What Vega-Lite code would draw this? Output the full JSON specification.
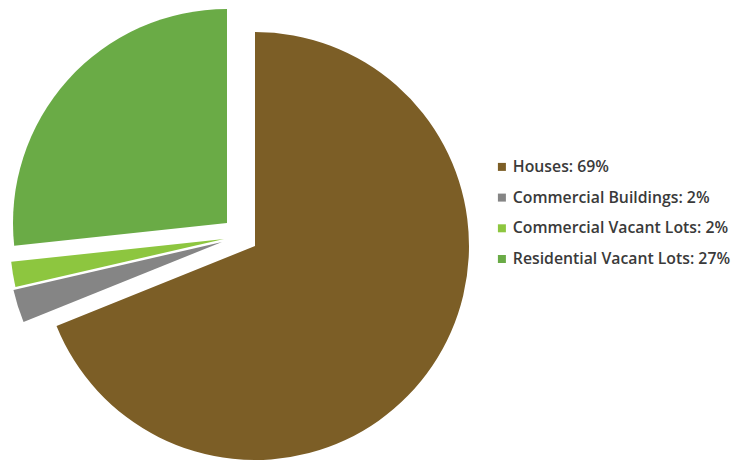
{
  "$schema": "https://vega.github.io/schema/vega-lite/v6.json",
  "width": 510,
  "height": 492,
  "padding": 0,
  "background": "white",
  "config": {"view": {"stroke": null}},
  "data": {"values": [
    {"category": "Houses", "label": "Houses: 69%", "value": 68.9, "rank": 1},
    {"category": "Commercial Buildings", "label": "Commercial Buildings: 2%", "value": 2.5, "rank": 2},
    {"category": "Commercial Vacant Lots", "label": "Commercial Vacant Lots: 2%", "value": 1.9, "rank": 3},
    {"category": "Residential Vacant Lots", "label": "Residential Vacant Lots: 27%", "value": 26.7, "rank": 4}
  ]},
  "encoding": {
    "theta": {"field": "value", "type": "quantitative", "stack": true},
    "order": {"field": "rank", "type": "quantitative"},
    "color": {
      "field": "label", "type": "nominal",
      "scale": {
        "domain": ["Houses: 69%", "Commercial Buildings: 2%", "Commercial Vacant Lots: 2%", "Residential Vacant Lots: 27%"],
        "range": ["#7c5e26", "#858585", "#8dc63f", "#6aab46"]
      },
      "legend": {
        "title": null, "orient": "none", "legendX": 494, "legendY": 159,
        "symbolType": "square", "symbolSize": 64, "symbolStrokeWidth": 0,
        "labelFont": "Open Sans", "labelFontSize": 15.8, "labelFontWeight": 600, "labelColor": "#3a3a3a",
        "labelOffset": 3, "rowPadding": 13.7, "labelLimit": 400
      }
    }
  },
  "layer": [
    {
      "mark": {"type": "arc", "radius": 214, "xOffset": 0, "yOffset": 0},
      "encoding": {"opacity": {"condition": {"test": "datum.category === 'Houses'", "value": 1}, "value": 0}}
    },
    {
      "mark": {"type": "arc", "radius": 214, "xOffset": -33, "yOffset": -4},
      "encoding": {"opacity": {"condition": {"test": "datum.category === 'Commercial Buildings'", "value": 1}, "value": 0}}
    },
    {
      "mark": {"type": "arc", "radius": 214, "xOffset": -31, "yOffset": -7},
      "encoding": {"opacity": {"condition": {"test": "datum.category === 'Commercial Vacant Lots'", "value": 1}, "value": 0}}
    },
    {
      "mark": {"type": "arc", "radius": 214, "xOffset": -28, "yOffset": -23},
      "encoding": {"opacity": {"condition": {"test": "datum.category === 'Residential Vacant Lots'", "value": 1}, "value": 0}}
    }
  ]
}
